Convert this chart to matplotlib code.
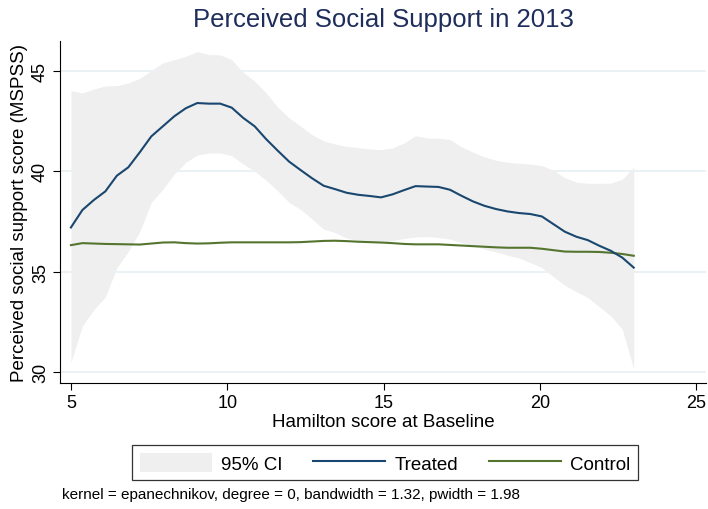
import numpy as np
import matplotlib
matplotlib.use("Agg")
import matplotlib.pyplot as plt

plt.rcParams["font.family"] = ["Liberation Sans", "DejaVu Sans"]

# 50 evaluation points of the local polynomial smooth (Hamilton score 5..23)
hamilton = np.linspace(5, 23, 50)

treated = [37.2, 38.07, 38.57, 39.0, 39.78, 40.2, 40.95, 41.74, 42.24, 42.74,
           43.14, 43.4, 43.37, 43.37, 43.17, 42.66, 42.24, 41.6, 41.03, 40.48,
           40.06, 39.65, 39.28, 39.11, 38.93, 38.83, 38.77, 38.7, 38.85, 39.06,
           39.26, 39.24, 39.22, 39.08, 38.78, 38.5, 38.28, 38.12, 38.0, 37.92,
           37.87, 37.75, 37.37, 36.99, 36.74, 36.57, 36.29, 36.04, 35.7, 35.2]

control = [36.32, 36.42, 36.40, 36.38, 36.37, 36.36, 36.35, 36.40, 36.45, 36.46,
           36.42, 36.40, 36.41, 36.44, 36.46, 36.46, 36.46, 36.46, 36.46, 36.46,
           36.47, 36.50, 36.53, 36.54, 36.52, 36.49, 36.47, 36.45, 36.42, 36.38,
           36.36, 36.36, 36.36, 36.33, 36.30, 36.27, 36.24, 36.21, 36.19, 36.19,
           36.19, 36.14, 36.07, 36.00, 35.99, 35.99, 35.98, 35.94, 35.88, 35.79]

ci_upper = [44.02, 43.9, 44.1, 44.25, 44.27, 44.4, 44.63, 45.02, 45.4, 45.56,
            45.73, 45.96, 45.81, 45.8, 45.56, 44.93, 44.49, 43.9, 43.2, 42.66,
            42.24, 41.82, 41.52, 41.36, 41.24, 41.18, 41.11, 41.08, 41.16, 41.41,
            41.77, 41.66, 41.64, 41.58, 41.22, 40.95, 40.72, 40.55, 40.45, 40.4,
            40.36, 40.28, 40.05, 39.68, 39.46, 39.4, 39.4, 39.41, 39.6, 40.2]

ci_lower = [30.47, 32.3, 33.1, 33.75, 35.2, 36.0, 37.0, 38.45, 39.1, 39.86,
            40.45, 40.81, 40.91, 40.91, 40.78, 40.36, 40.0, 39.55, 39.03, 38.45,
            38.1, 37.62, 37.12, 36.95, 36.67, 36.54, 36.46, 36.45, 36.55, 36.65,
            36.72, 36.75, 36.7, 36.62, 36.45, 36.29, 36.12, 35.98, 35.82, 35.68,
            35.45, 35.2, 34.75, 34.32, 34.0, 33.71, 33.25, 32.8, 32.13, 30.14]

x_ticks = [5, 10, 15, 20, 25]
y_ticks = [30, 35, 40, 45]

NAVY = "#1a476f"
GREEN = "#55752f"
GREY = "#efefef"

fig = plt.figure(figsize=(7.08, 5.10), dpi=100)
ax = fig.add_axes([0.0847, 0.247, 0.912, 0.671])

for y in y_ticks:
    ax.axhline(y, color="#e8f0f3", lw=1.2, zorder=0)

ci = ax.fill_between(hamilton, ci_lower, ci_upper, color=GREY, lw=0, zorder=1,
                     label="95% CI")
l1, = ax.plot(hamilton, treated, color=NAVY, lw=1.5, zorder=3, label="Treated")
l2, = ax.plot(hamilton, control, color=GREEN, lw=1.5, zorder=2, label="Control")

ax.set_xlim(4.65, 25.3)
ax.set_ylim(29.45, 46.5)
ax.set_xticks(x_ticks)
ax.set_yticks(y_ticks)
ax.tick_params(axis="both", labelsize=13, length=5, direction="out", pad=3)
for lab in ax.get_yticklabels():
    lab.set_rotation(90)
    lab.set_va("center")
ax.spines["top"].set_visible(False)
ax.spines["right"].set_visible(False)

ax.set_xlabel("Hamilton score at Baseline", fontsize=13.5, labelpad=1)
ax.set_ylabel("Perceived social support score (MSPSS)", fontsize=13.5, labelpad=3)
fig.text(0.542, 0.961, "Perceived Social Support in 2013", ha="center", va="center",
         fontsize=18.5, color="#1e2d5c")

leg = fig.legend(handles=[ci, l1, l2], loc="center", ncol=3,
                 bbox_to_anchor=(0.544, 0.091), fontsize=13.5, frameon=True,
                 fancybox=False, handlelength=3.84, handleheight=1.23,
                 handletextpad=0.53, columnspacing=1.6, borderpad=0.4)
leg.get_frame().set_edgecolor("black")
leg.get_frame().set_linewidth(0.9)

fig.text(0.0876, 0.029, "kernel = epanechnikov, degree = 0, bandwidth = 1.32, pwidth = 1.98",
         fontsize=11, ha="left", va="center")

plt.savefig("out.png", dpi=100)
plt.close()
